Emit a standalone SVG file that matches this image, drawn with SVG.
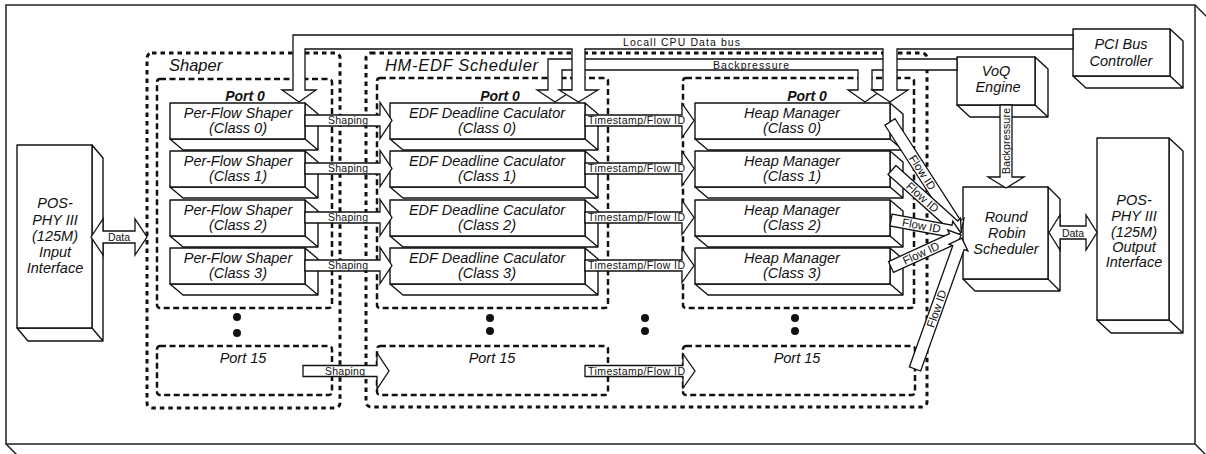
<svg xmlns="http://www.w3.org/2000/svg" width="1206" height="454" viewBox="0 0 1206 454">
<style>
.bx{fill:#fff;stroke:#111;stroke-width:1.4;stroke-linejoin:round}
.ar{fill:#fff;stroke:#111;stroke-width:1.3;stroke-linejoin:miter}
.grp{fill:none;stroke:#111;stroke-width:3;stroke-dasharray:4.5 4}
.prt{fill:none;stroke:#111;stroke-width:2.5;stroke-dasharray:6 3.5}
.t{font-family:"Liberation Sans",Arial,sans-serif;font-style:italic;font-size:14.5px;text-anchor:middle;fill:#111}
.pb{font-family:"Liberation Sans",Arial,sans-serif;font-style:italic;font-weight:bold;font-size:14px;text-anchor:middle;fill:#111}
.hd{font-family:"Liberation Sans",Arial,sans-serif;font-style:italic;font-size:16.5px;fill:#111}
.l{font-family:"Liberation Sans",Arial,sans-serif;font-size:10.5px;fill:#111}
.lm{font-family:"Liberation Sans",Arial,sans-serif;font-size:11.5px;fill:#111;text-anchor:middle}
</style>

<g id="frame" fill="none" stroke="#222" stroke-width="1.5">
<rect x="6" y="5" width="1189" height="439"/>
<path d="M1195,5 L1207,17 M6,444 L17,455 M1195,444 L1207,456"/>
</g>

<g id="shaper-group">
<rect class="grp" x="147" y="53" width="193" height="355" rx="5"/>
<text class="hd" x="169" y="71" font-size="17">Shaper</text>
<rect class="prt" x="157" y="79" width="175" height="229" rx="3"/>
<text class="pb" x="245" y="101">Port 0</text>
<rect class="prt" x="157" y="346" width="175" height="49" rx="3"/>
<text class="t" x="243" y="363">Port 15</text>
<circle cx="237" cy="317" r="4" fill="#111"/>
<circle cx="237" cy="333" r="4" fill="#111"/>
</g>

<g id="hmedf-group">
<rect class="grp" x="366" y="53" width="561" height="354" rx="5"/>
<text class="hd" x="385" y="71" textLength="153">HM-EDF Scheduler</text>
<rect class="prt" x="377" y="78" width="231" height="230" rx="3"/>
<text class="pb" x="500" y="101">Port 0</text>
<rect class="prt" x="683" y="78" width="231" height="230" rx="3"/>
<text class="pb" x="807" y="101">Port 0</text>
<rect class="prt" x="377" y="346" width="231" height="49" rx="3"/>
<text class="t" x="492" y="363">Port 15</text>
<rect class="prt" x="683" y="346" width="232" height="49" rx="3"/>
<text class="t" x="797" y="363">Port 15</text>
<circle cx="490" cy="318" r="4" fill="#111"/>
<circle cx="490" cy="331" r="4" fill="#111"/>
<circle cx="645" cy="318" r="4" fill="#111"/>
<circle cx="645" cy="331" r="4" fill="#111"/>
<circle cx="795" cy="318" r="4" fill="#111"/>
<circle cx="795" cy="331" r="4" fill="#111"/>
</g>

<g id="input-if">
<path class="bx" d="M92,145 L103,158 L103,341 L28,341 L17,328 L92,328 Z M92,328 L103,341"/>
<rect class="bx" x="17" y="145" width="75" height="183"/>
<text class="t" x="55" y="208">POS-</text>
<text class="t" x="55" y="225">PHY III</text>
<text class="t" x="55" y="241">(125M)</text>
<text class="t" x="55" y="257">Input</text>
<text class="t" x="55" y="273">Interface</text>
</g>

<g id="shaper0">
<path class="bx" d="M305,103 L318,114 L318,150 L183,150 L170,139 L305,139 Z M305,139 L318,150"/>
<rect class="bx" x="170" y="103" width="135" height="36"/>
<text class="t" x="238" y="118">Per-Flow Shaper</text>
<text class="t" x="238" y="133">(Class 0)</text>
</g>
<g id="shaper1">
<path class="bx" d="M305,151 L318,162 L318,198 L183,198 L170,187 L305,187 Z M305,187 L318,198"/>
<rect class="bx" x="170" y="151" width="135" height="36"/>
<text class="t" x="238" y="166">Per-Flow Shaper</text>
<text class="t" x="238" y="181">(Class 1)</text>
</g>
<g id="shaper2">
<path class="bx" d="M305,200 L318,211 L318,247 L183,247 L170,236 L305,236 Z M305,236 L318,247"/>
<rect class="bx" x="170" y="200" width="135" height="36"/>
<text class="t" x="238" y="215">Per-Flow Shaper</text>
<text class="t" x="238" y="230">(Class 2)</text>
</g>
<g id="shaper3">
<path class="bx" d="M305,248 L318,259 L318,295 L183,295 L170,284 L305,284 Z M305,284 L318,295"/>
<rect class="bx" x="170" y="248" width="135" height="36"/>
<text class="t" x="238" y="263">Per-Flow Shaper</text>
<text class="t" x="238" y="278">(Class 3)</text>
</g>

<g id="edf0">
<path class="bx" d="M585,103 L598,114 L598,150 L403,150 L390,139 L585,139 Z M585,139 L598,150"/>
<rect class="bx" x="390" y="103" width="195" height="36"/>
<text class="t" x="487" y="118">EDF Deadline Caculator</text>
<text class="t" x="487" y="133">(Class 0)</text>
</g>
<g id="edf1">
<path class="bx" d="M585,151 L598,162 L598,198 L403,198 L390,187 L585,187 Z M585,187 L598,198"/>
<rect class="bx" x="390" y="151" width="195" height="36"/>
<text class="t" x="487" y="166">EDF Deadline Caculator</text>
<text class="t" x="487" y="181">(Class 1)</text>
</g>
<g id="edf2">
<path class="bx" d="M585,200 L598,211 L598,247 L403,247 L390,236 L585,236 Z M585,236 L598,247"/>
<rect class="bx" x="390" y="200" width="195" height="36"/>
<text class="t" x="487" y="215">EDF Deadline Caculator</text>
<text class="t" x="487" y="230">(Class 2)</text>
</g>
<g id="edf3">
<path class="bx" d="M585,248 L598,259 L598,295 L403,295 L390,284 L585,284 Z M585,284 L598,295"/>
<rect class="bx" x="390" y="248" width="195" height="36"/>
<text class="t" x="487" y="263">EDF Deadline Caculator</text>
<text class="t" x="487" y="278">(Class 3)</text>
</g>

<g id="heap0">
<path class="bx" d="M890,103 L903,114 L903,150 L708,150 L695,139 L890,139 Z M890,139 L903,150"/>
<rect class="bx" x="695" y="103" width="195" height="36"/>
<text class="t" x="792" y="118">Heap Manager</text>
<text class="t" x="792" y="133">(Class 0)</text>
</g>
<g id="heap1">
<path class="bx" d="M890,151 L903,162 L903,198 L708,198 L695,187 L890,187 Z M890,187 L903,198"/>
<rect class="bx" x="695" y="151" width="195" height="36"/>
<text class="t" x="792" y="166">Heap Manager</text>
<text class="t" x="792" y="181">(Class 1)</text>
</g>
<g id="heap2">
<path class="bx" d="M890,200 L903,211 L903,247 L708,247 L695,236 L890,236 Z M890,236 L903,247"/>
<rect class="bx" x="695" y="200" width="195" height="36"/>
<text class="t" x="792" y="215">Heap Manager</text>
<text class="t" x="792" y="230">(Class 2)</text>
</g>
<g id="heap3">
<path class="bx" d="M890,248 L903,259 L903,295 L708,295 L695,284 L890,284 Z M890,284 L903,295"/>
<rect class="bx" x="695" y="248" width="195" height="36"/>
<text class="t" x="792" y="263">Heap Manager</text>
<text class="t" x="792" y="278">(Class 3)</text>
</g>

<g id="pci">
<path class="bx" d="M1170,29 L1183,41 L1183,88 L1086,88 L1073,76 L1170,76 Z M1170,76 L1183,88"/>
<rect class="bx" x="1073" y="29" width="97" height="47"/>
<text class="t" x="1121" y="49" font-size="14">PCI Bus</text>
<text class="t" x="1121" y="66" font-size="14">Controller</text>
</g>

<g id="voq">
<path class="bx" d="M1035,57 L1048,69 L1048,117 L970,117 L957,105 L1035,105 Z M1035,105 L1048,117"/>
<rect class="bx" x="957" y="57" width="78" height="48"/>
<text class="t" x="996" y="76">VoQ</text>
<text class="t" x="998" y="92">Engine</text>
</g>

<g id="rr">
<path class="bx" d="M1048,187 L1060,199 L1060,291 L975,291 L963,279 L1048,279 Z M1048,279 L1060,291"/>
<rect class="bx" x="963" y="187" width="85" height="92"/>
<text class="t" x="1006" y="222">Round</text>
<text class="t" x="1007" y="238">Robin</text>
<text class="t" x="1006" y="254">Scheduler</text>
</g>

<g id="output-if">
<path class="bx" d="M1169,138 L1183,151 L1183,333 L1111,333 L1097,320 L1169,320 Z M1169,320 L1183,333"/>
<rect class="bx" x="1097" y="138" width="72" height="182"/>
<text class="t" x="1134" y="205" font-size="14">POS-</text>
<text class="t" x="1134" y="221" font-size="14">PHY III</text>
<text class="t" x="1134" y="237" font-size="14">(125M)</text>
<text class="t" x="1134" y="252" font-size="14">Output</text>
<text class="t" x="1134" y="267" font-size="14">Interface</text>
</g>

<g id="connectors">
<path class="ar" d="M548,59 H957 V70 H872 V90 H882 L865,102 L848,90 H858 V70 H562 V90 H573 L555,102 L537,90 H548 Z"/>
<text class="l" x="713" y="68.5" font-size="11.5" textLength="76">Backpressure</text>
<path class="ar" d="M293,35 H1073 V49 H897 V90 H908 L890,102 L872,90 H883 V49 H585 V90 H598 L578.5,102 L559,90 H572 V49 H305 V90 H316 L299,102 L282,90 H293 Z"/>
<text class="l" x="623" y="46" font-size="12.5" textLength="117">Locall CPU Data bus</text>

<path class="ar" d="M305,115 H380 V102.5 L392,120.5 L380,138.5 V126 H305 Z"/>
<path class="ar" d="M305,163 H380 V150.5 L392,168.5 L380,186.5 V174 H305 Z"/>
<path class="ar" d="M305,212 H380 V199.5 L392,217.5 L380,235.5 V223 H305 Z"/>
<path class="ar" d="M305,260 H380 V247.5 L392,265.5 L380,283.5 V271 H305 Z"/>
<path class="ar" d="M303,365.5 H377 V353 L389,371 L377,389 V376.5 H303 Z"/>
<text class="l" x="328" y="124" textLength="40">Shaping</text>
<text class="l" x="328" y="172" textLength="40">Shaping</text>
<text class="l" x="328" y="221" textLength="40">Shaping</text>
<text class="l" x="328" y="269" textLength="40">Shaping</text>
<text class="l" x="325" y="374.5" textLength="40">Shaping</text>

<path class="ar" d="M585,115 H682 V103.5 L694,120.5 L682,137.5 V126 H585 Z"/>
<path class="ar" d="M585,163 H682 V151.5 L694,168.5 L682,185.5 V174 H585 Z"/>
<path class="ar" d="M585,212 H682 V200.5 L694,217.5 L682,234.5 V223 H585 Z"/>
<path class="ar" d="M585,260 H682 V248.5 L694,265.5 L682,282.5 V271 H585 Z"/>
<path class="ar" d="M585,365.5 H683 V354 L695,371 L683,388 V376.5 H585 Z"/>
<text class="l" x="588" y="124" textLength="97">Timestamp/Flow ID</text>
<text class="l" x="588" y="172" textLength="97">Timestamp/Flow ID</text>
<text class="l" x="588" y="221" textLength="97">Timestamp/Flow ID</text>
<text class="l" x="588" y="269" textLength="97">Timestamp/Flow ID</text>
<text class="l" x="588" y="374.5" textLength="97">Timestamp/Flow ID</text>

<g transform="translate(890,122) rotate(57.2)">
<path class="ar" d="M0,-6 H121 V-10 L131,0 L121,10 V6 H0 Z"/>
<text class="lm" x="60" y="4">Flow ID</text>
</g>
<g transform="translate(892,170) rotate(41.9)">
<path class="ar" d="M0,-6 H83 V-10 L93,0 L83,10 V6 H0 Z"/>
<text class="lm" x="41" y="4">Flow ID</text>
</g>
<g transform="translate(891,220) rotate(10.5)">
<path class="ar" d="M0,-6 H61 V-10 L71,0 L61,10 V6 H0 Z"/>
<text class="lm" x="31" y="4">Flow ID</text>
</g>
<g transform="translate(891,267) rotate(-24.6)">
<path class="ar" d="M0,-6 H67 V-10 L77,0 L67,10 V6 H0 Z"/>
<text class="lm" x="33" y="4">Flow ID</text>
</g>
<g transform="translate(915,369) rotate(-70.3)">
<path class="ar" d="M0,-6 H129 V-10 L139,0 L129,10 V6 H0 Z"/>
<text class="lm" x="64" y="4">Flow ID</text>
</g>

<path class="ar" d="M91,237 L103,219 V231 H135 V219 L147,237 L135,255 V243 H103 V255 Z"/>
<text class="l" x="119" y="241" font-size="12" text-anchor="middle">Data</text>
<path class="ar" d="M1049,232.5 L1060,215 V226 H1086 V215 L1097,232.5 L1086,250 V239 H1060 V250 Z"/>
<text class="l" x="1073" y="237" font-size="12" text-anchor="middle">Data</text>

<path class="ar" d="M1000,105 H1012 V177 H1024 L1006,188 L988,177 H1000 Z"/>
<text class="l" transform="translate(1006,141) rotate(-90)" x="0" y="3.5" font-size="10" text-anchor="middle" textLength="66">Backpressure</text>
</g>
</svg>
